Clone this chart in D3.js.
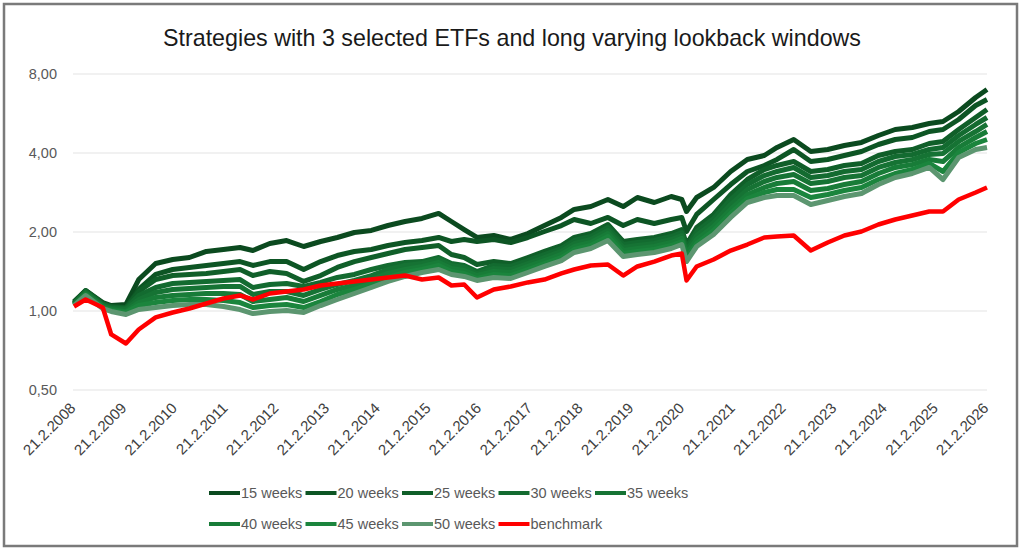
<!DOCTYPE html>
<html>
<head>
<meta charset="utf-8">
<script src="https://cdn.jsdelivr.net/npm/d3@7"></script>
<style>
  body { margin: 0; background: #fff; }
  text { font-family: "Liberation Sans", Arial, sans-serif; }
</style>
</head>
<body>
<div id="chart"></div>
<script>
// sample dates (values read roughly every 4 months off the picture)
const dates = ["2008-02-21","2008-05-15","2008-09-15","2008-11-15","2009-03-01","2009-06-01","2009-10-01",
  "2010-02-01","2010-06-01","2010-10-01","2011-02-01","2011-06-01","2011-09-01","2012-01-01","2012-05-01",
  "2012-09-01","2013-01-01","2013-05-01","2013-09-01","2014-01-01","2014-05-01","2014-09-01","2015-01-01",
  "2015-05-01","2015-08-01","2015-11-01","2016-02-01","2016-06-01","2016-10-01","2017-02-01","2017-06-01",
  "2017-10-01","2018-01-01","2018-05-01","2018-09-01","2018-12-20","2019-04-01","2019-08-01","2019-12-01",
  "2020-02-15","2020-03-20","2020-06-01","2020-10-01","2021-02-01","2021-06-01","2021-10-01","2022-01-01",
  "2022-05-01","2022-09-01","2023-01-01","2023-05-01","2023-09-01","2024-01-01","2024-05-01","2024-09-01",
  "2025-01-01","2025-04-10","2025-08-01","2025-12-01","2026-02-21"];

const w15 = [1.087,1.197,1.077,1.049,1.059,1.318,1.517,1.571,1.599,1.686,1.715,1.746,1.700,1.808,1.856,
  1.761,1.840,1.906,1.991,2.027,2.117,2.193,2.252,2.353,2.193,2.044,1.906,1.940,1.873,1.974,2.117,
  2.272,2.437,2.501,2.660,2.501,2.707,2.591,2.731,2.660,2.394,2.707,2.956,3.401,3.779,3.913,4.200,
  4.503,4.053,4.125,4.272,4.389,4.664,4.916,5.003,5.182,5.274,5.757,6.510,6.983];
const w20 = [1.068,1.187,1.059,1.031,1.031,1.208,1.378,1.439,1.465,1.491,1.517,1.543,1.491,1.543,1.543,
  1.439,1.543,1.627,1.686,1.715,1.776,1.824,1.856,1.906,1.840,1.873,1.840,1.873,1.824,1.906,2.009,
  2.117,2.232,2.155,2.272,2.117,2.232,2.155,2.232,2.272,2.009,2.332,2.660,3.034,3.401,3.585,3.779,
  4.125,3.712,3.779,3.913,4.053,4.310,4.503,4.583,4.830,4.916,5.367,6.068,6.397];
const w25 = [1.077,1.197,1.068,1.040,1.031,1.187,1.318,1.365,1.378,1.390,1.414,1.439,1.365,1.414,1.390,
  1.296,1.365,1.465,1.543,1.599,1.656,1.715,1.746,1.776,1.642,1.599,1.504,1.543,1.517,1.599,1.686,
  1.776,1.906,1.974,2.136,1.840,1.873,1.906,1.974,2.044,1.792,2.081,2.332,2.779,3.170,3.461,3.585,
  3.712,3.401,3.461,3.585,3.650,3.913,4.053,4.125,4.348,4.427,4.916,5.462,5.859];
const w30 = [1.068,1.187,1.059,1.031,1.022,1.146,1.229,1.273,1.285,1.296,1.307,1.318,1.229,1.262,1.273,
  1.240,1.285,1.342,1.378,1.439,1.491,1.530,1.543,1.599,1.517,1.491,1.414,1.491,1.478,1.557,1.642,
  1.730,1.856,1.923,2.081,1.792,1.824,1.856,1.923,1.991,1.746,2.009,2.252,2.660,3.034,3.283,3.401,
  3.523,3.227,3.283,3.401,3.461,3.712,3.879,3.948,4.125,4.200,4.664,5.137,5.462];
const w35 = [1.059,1.177,1.049,1.022,1.013,1.106,1.177,1.208,1.218,1.229,1.240,1.240,1.156,1.187,1.187,
  1.146,1.208,1.262,1.307,1.365,1.439,1.491,1.517,1.571,1.491,1.465,1.390,1.452,1.439,1.517,1.599,
  1.686,1.808,1.873,2.027,1.746,1.776,1.808,1.873,1.940,1.700,1.940,2.174,2.546,2.904,3.115,3.227,
  3.313,3.061,3.115,3.227,3.283,3.523,3.680,3.779,3.948,3.983,4.427,4.830,5.137];
const w40 = [1.059,1.166,1.040,1.013,0.996,1.077,1.126,1.146,1.156,1.166,1.166,1.156,1.087,1.106,1.126,
  1.087,1.146,1.208,1.251,1.318,1.390,1.439,1.478,1.530,1.452,1.427,1.365,1.414,1.402,1.478,1.557,
  1.642,1.761,1.824,1.974,1.700,1.730,1.761,1.824,1.890,1.656,1.873,2.099,2.437,2.779,2.957,3.061,
  3.115,2.879,2.930,3.034,3.115,3.342,3.523,3.616,3.779,3.712,4.200,4.583,4.830];
const w45 = [1.049,1.156,1.031,1.004,0.987,1.049,1.077,1.097,1.106,1.106,1.097,1.077,1.031,1.049,1.059,
  1.031,1.087,1.156,1.208,1.273,1.342,1.402,1.439,1.491,1.414,1.390,1.330,1.378,1.365,1.439,1.517,
  1.599,1.715,1.776,1.923,1.656,1.686,1.715,1.776,1.840,1.599,1.808,2.027,2.353,2.683,2.829,2.904,
  2.904,2.707,2.779,2.879,2.957,3.170,3.342,3.461,3.650,3.401,4.019,4.348,4.503];
const w50 = [1.049,1.146,1.022,0.996,0.970,1.013,1.031,1.049,1.059,1.059,1.040,1.013,0.978,0.996,1.004,
  0.987,1.049,1.106,1.166,1.229,1.296,1.354,1.402,1.439,1.378,1.354,1.307,1.342,1.330,1.402,1.478,
  1.557,1.671,1.730,1.856,1.613,1.642,1.671,1.730,1.792,1.543,1.761,1.957,2.272,2.591,2.707,2.755,
  2.755,2.546,2.637,2.731,2.804,3.034,3.227,3.342,3.523,3.170,3.845,4.125,4.200];
const benchmark = [1.040,1.106,1.031,0.814,0.752,0.850,0.945,0.987,1.022,1.068,1.116,1.146,1.106,1.166,1.187,
  1.208,1.251,1.273,1.296,1.318,1.342,1.365,1.318,1.342,1.251,1.262,1.126,1.208,1.240,1.285,1.318,
  1.390,1.439,1.491,1.504,1.365,1.478,1.543,1.627,1.656,1.307,1.478,1.571,1.700,1.792,1.906,1.923,
  1.940,1.700,1.824,1.940,2.009,2.136,2.232,2.312,2.394,2.394,2.660,2.829,2.957];

const seriesNames = ["15 weeks","20 weeks","25 weeks","30 weeks","35 weeks","40 weeks","45 weeks","50 weeks","benchmark"];
const seriesColors = ["#0b4a1f","#0d5524","#105f29","#136b30","#167334","#187c38","#1b853d","#5c9670","#ff0000"];
const yTicks = [0.5, 1, 2, 4, 8];
const xTickYears = d3.range(2008, 2027);

let svgWidth = 1024;
let svgHeight = 551;

let margin = { top: 74, right: 37, bottom: 161, left: 74 };
let width = svgWidth - margin.left - margin.right;
let height = svgHeight - margin.top - margin.bottom;

let svg = d3.select("#chart")
  .append("svg")
  .attr("width", svgWidth)
  .attr("height", svgHeight);

// outer frame
svg.append("rect")
  .attr("x", 4).attr("y", 4)
  .attr("width", 1013).attr("height", 542)
  .attr("fill", "#fff")
  .attr("stroke", "#7a7a7a")
  .attr("stroke-width", 2.5);

// title (narrow face, stretched to the width seen in the picture)
svg.append("text")
  .attr("x", svgWidth / 2)
  .attr("y", 46)
  .attr("text-anchor", "middle")
  .attr("font-size", "24px")
  .attr("textLength", 698)
  .attr("lengthAdjust", "spacingAndGlyphs")
  .style("font-family", "'Liberation Sans Narrow', 'Liberation Sans', Arial, sans-serif")
  .attr("fill", "#1a1a1a")
  .text("Strategies with 3 selected ETFs and long varying lookback windows");

let chartGroup = svg.append("g")
  .attr("transform", `translate(${margin.left}, ${margin.top})`);

let parseDate = d3.timeParse("%Y-%m-%d");
let dateVals = dates.map(parseDate);

let xScale = d3.scaleTime()
  .domain([parseDate("2008-02-21"), parseDate("2026-02-21")])
  .range([0, width]);

let yScale = d3.scaleLog().base(2)
  .domain([0.5, 8])
  .range([height, 0]);

// gridlines
chartGroup.selectAll(".grid")
  .data(yTicks)
  .enter()
  .append("line")
  .attr("x1", -1).attr("x2", width)
  .attr("y1", d => yScale(d)).attr("y2", d => yScale(d))
  .attr("stroke", "#e3e3e3")
  .attr("stroke-width", 1);

// y axis labels
let fmt = d => d.toFixed(2).replace(".", ",");
let leftAxis = d3.axisLeft(yScale).tickValues(yTicks).tickFormat(fmt).tickSize(0).tickPadding(17);
let yAxis = chartGroup.append("g").call(leftAxis);
yAxis.select(".domain").remove();
yAxis.selectAll("text")
  .attr("font-size", "14.5px")
  .attr("fill", "#595959");

// x axis labels, rotated
let xTicks = xTickYears.map(y => parseDate(y + "-02-21"));
let bottomAxis = d3.axisBottom(xScale).tickValues(xTicks).tickFormat(d3.timeFormat("21.2.%Y")).tickSize(0);
let xAxis = chartGroup.append("g")
  .attr("transform", `translate(0,${height})`)
  .call(bottomAxis);
xAxis.select(".domain").remove();
xAxis.selectAll("text")
  .attr("font-size", "15px")
  .attr("fill", "#404040")
  .attr("text-anchor", "end")
  .attr("dy", null)
  .attr("y", 0)
  .attr("transform", "translate(2,19) rotate(-45)");

// lines
let allSeries = [w15, w20, w25, w30, w35, w40, w45, w50, benchmark];
let line = d3.line()
  .x((d, i) => xScale(dateVals[i]))
  .y(d => yScale(d));

chartGroup.selectAll(".series")
  .data(allSeries)
  .enter()
  .append("path")
  .attr("d", d => line(d))
  .attr("fill", "none")
  .attr("stroke", (d, i) => seriesColors[i])
  .attr("stroke-width", (d, i) => i === 8 ? 4.5 : 5)
  .attr("stroke-linejoin", "round");

// legend
let legend = svg.append("g");
seriesNames.forEach((name, i) => {
  let col = i % 5;
  let row = Math.floor(i / 5);
  let g = legend.append("g")
    .attr("transform", `translate(${209 + col * 96.5}, ${493 + row * 31})`);
  g.append("line")
    .attr("x1", 0).attr("x2", 31)
    .attr("y1", 0).attr("y2", 0)
    .attr("stroke", seriesColors[i])
    .attr("stroke-width", 4);
  g.append("text")
    .attr("x", 32)
    .attr("y", 5)
    .attr("font-size", "14.5px")
    .attr("fill", "#595959")
    .text(name);
});
</script>
</body>
</html>
